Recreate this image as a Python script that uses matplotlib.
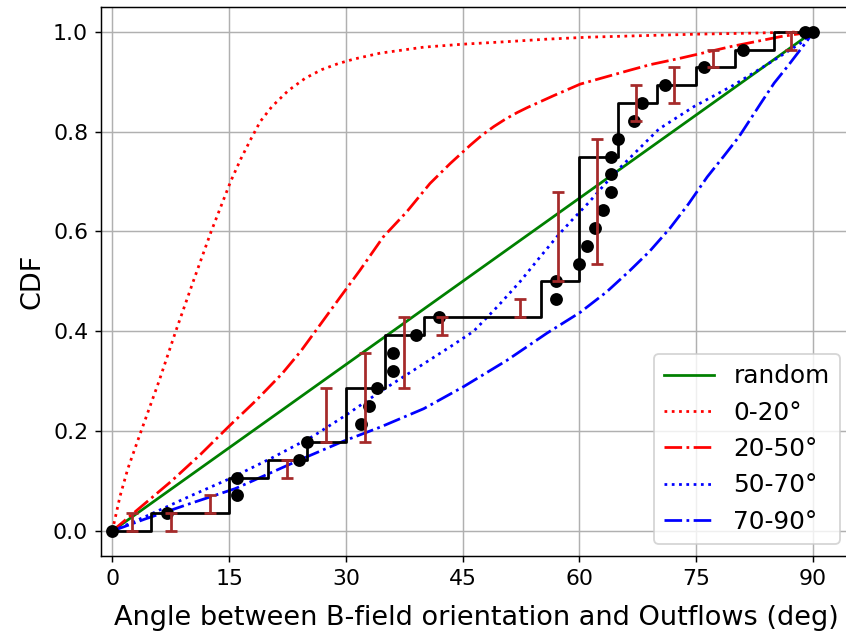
import numpy as np
import matplotlib
matplotlib.use("Agg")
import matplotlib.pyplot as plt

# Observed source angles (deg) and their cumulative counts
n_src = 28
dot_angle = [0, 7, 16, 16, 24, 25, 32, 33, 34, 36, 36, 39, 42, 57, 57,
             60, 61, 62, 63, 64, 64, 64, 65, 67, 68, 71, 76, 81, 89, 90]
dot_count = [0, 1, 2, 3, 4, 5, 6, 7, 8, 9, 10, 11, 12, 13, 14,
             15, 16, 17, 18, 19, 20, 21, 22, 23, 24, 25, 26, 27, 28, 28]

# Binned cumulative distribution (5 deg bins)
bin_edges = [0, 5, 10, 15, 20, 25, 30, 35, 40, 45, 50, 55, 60, 65, 70, 75, 80, 85, 90]
bin_count = [0, 1, 1, 3, 4, 5, 8, 11, 12, 12, 12, 14, 21, 24, 25, 26, 27, 28, 28]

# Uncertainty ranges per bin (in counts)
err_x = [2.5, 7.5, 12.5, 22.4, 27.4, 32.4, 37.4, 42.3, 52.3, 57.3, 62.3, 67.3, 72.2, 77.2, 87.2]
err_lo = [0, 0, 1, 3, 5, 5, 8, 11, 12, 14, 15, 23, 24, 26, 27]
err_hi = [1, 1, 2, 4, 8, 10, 12, 12, 13, 19, 22, 25, 26, 27, 28]

# Model CDFs of projected angle for 3D angle ranges
rand_x = [0, 90]
rand_y = [0, 1]

m0_20_x = [0, 1.0, 2.0, 3.7, 6.0, 8.15, 10.4, 12.7, 15.2, 16.5, 17.8, 19.0, 20.5, 22.6, 24.8,
           26.9, 29.0, 31.0, 34.4, 40.0, 45.1, 50.7, 55.8, 61.2, 68.0, 75.1, 82.0, 90]
m0_20_y = [0, 0.07, 0.125, 0.2, 0.30, 0.40, 0.50, 0.60, 0.70, 0.745, 0.785, 0.82, 0.85, 0.882, 0.907,
           0.924, 0.936, 0.945, 0.957, 0.969, 0.975, 0.980, 0.985, 0.989, 0.992, 0.995, 0.997, 1.0]

m20_50_x = [0, 3.8, 7.6, 11.3, 15.0, 18.5, 21.8, 24.2, 26.5, 29.3, 31.8, 34.8, 37.8, 40.8,
            43.4, 46.0, 47.5, 49.0, 50.5, 52.0, 53.3, 56.7, 60.1, 66.5, 69.1, 73.0, 79.4, 85.8, 90]
m20_50_y = [0, 0.05, 0.10, 0.153, 0.21, 0.262, 0.315, 0.36, 0.409, 0.469, 0.522, 0.589, 0.639, 0.696,
            0.736, 0.773, 0.793, 0.81, 0.825, 0.838, 0.848, 0.872, 0.895, 0.923, 0.934, 0.947, 0.97, 0.99, 1.0]

m50_70_x = [0, 4.4, 10, 15.1, 20.7, 25.8, 30.1, 34.4, 40.0, 43.5, 46.4, 49.5, 52.4, 55.0,
            57.3, 59.0, 61.2, 63.0, 65.3, 70.2, 74.7, 79.8, 85.0, 88.4, 90]
m50_70_y = [0, 0.03, 0.07, 0.105, 0.148, 0.19, 0.233, 0.279, 0.335, 0.37, 0.40, 0.45, 0.50, 0.55,
            0.593, 0.622, 0.658, 0.69, 0.729, 0.805, 0.85, 0.893, 0.943, 0.977, 1.0]

m70_90_x = [0, 4.2, 10, 15.8, 24.0, 29.7, 34.4, 40.0, 45.1, 50.7, 55.8, 60.1, 63.5, 66.5,
            69.0, 71.6, 74.0, 76.4, 78.5, 80.5, 83.3, 85.0, 86.7, 89.3, 90]
m70_90_y = [0, 0.024, 0.055, 0.085, 0.142, 0.18, 0.208, 0.245, 0.289, 0.342, 0.396, 0.438, 0.479, 0.522,
            0.56, 0.606, 0.655, 0.709, 0.75, 0.79, 0.857, 0.897, 0.93, 0.983, 1.0]

# ─── Figure ───
fig = plt.figure(figsize=(846 / 132, 637 / 132), dpi=132)
ax = fig.add_axes([101 / 846, 1 - 556 / 637, 751 / 846, 549.3 / 637])

ax.plot(rand_x, rand_y, color="green", ls="-", lw=1.5, label="random")
ax.plot(m0_20_x, m0_20_y, color="red", ls=":", lw=1.5, label="0-20°")
ax.plot(m20_50_x, m20_50_y, color="red", ls="-.", lw=1.5, label="20-50°")
ax.plot(m50_70_x, m50_70_y, color="blue", ls=":", lw=1.5, label="50-70°")
ax.plot(m70_90_x, m70_90_y, color="blue", ls="-.", lw=1.5, label="70-90°")

ax.step(bin_edges, np.array(bin_count) / n_src, where="post", color="black", lw=1.5)
ax.plot(dot_angle, np.array(dot_count) / n_src, "ko", markersize=6)

lo = np.array(err_lo) / n_src
hi = np.array(err_hi) / n_src
ax.errorbar(err_x, (lo + hi) / 2, yerr=(hi - lo) / 2, fmt="none",
            ecolor="brown", elinewidth=1.5, capsize=3.2, capthick=1.5)

ax.set_xlim(-1.45, 95.0)
ax.set_ylim(-0.05, 1.05)
ax.set_xticks([0, 15, 30, 45, 60, 75, 90])
ax.set_yticks([0.0, 0.2, 0.4, 0.6, 0.8, 1.0])
ax.tick_params(labelsize=12)
ax.grid(True)
ax.set_xlabel("Angle between B-field orientation and Outflows (deg)", fontsize=14.8, labelpad=9)
ax.set_ylabel("CDF", fontsize=14.8)
ax.legend(loc="lower right", fontsize=13.5)

plt.savefig("out.png", dpi=132)
plt.close()
